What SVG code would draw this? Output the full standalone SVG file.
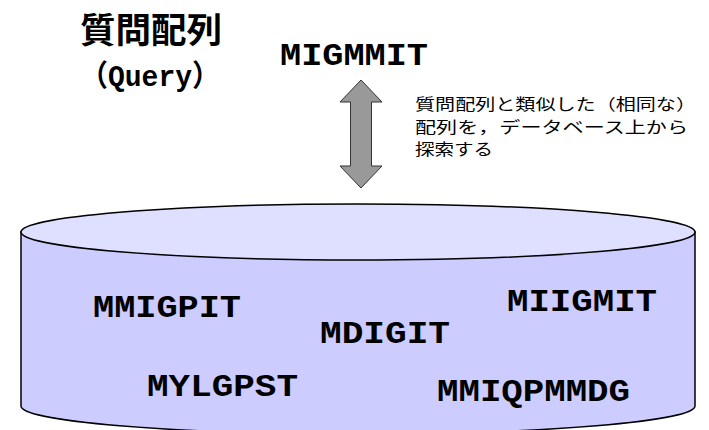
<svg xmlns="http://www.w3.org/2000/svg" width="709" height="430" viewBox="0 0 709 430">
<style>
.seq{font-family:"Liberation Mono","DejaVu Sans Mono",monospace;font-weight:bold;font-size:31px;fill:#000}
.jp{font-family:"Noto Sans CJK JP","Noto Sans",sans-serif;fill:#000}
.note{font-family:"Noto Sans CJK JP","Noto Sans",sans-serif;font-size:15.5px;fill:#000}
.db{stroke:#000;stroke-width:1.5}
</style>
<rect width="709" height="430" fill="#fff"/>
<g id="database">
<path class="db" d="M21,232 L21,406 A337,28 0 0 0 695,406 L695,232 Z" fill="#ccccff"/>
<ellipse class="db" cx="358" cy="232" rx="337" ry="28" fill="#dfdfff"/>
<text class="seq" x="93" y="317" textLength="148" lengthAdjust="spacingAndGlyphs">MMIGPIT</text>
<text class="seq" x="320" y="343" textLength="130" lengthAdjust="spacingAndGlyphs">MDIGIT</text>
<text class="seq" x="507" y="311" textLength="150" lengthAdjust="spacingAndGlyphs">MIIGMIT</text>
<text class="seq" x="147" y="396" textLength="151" lengthAdjust="spacingAndGlyphs">MYLGPST</text>
<text class="seq" x="437" y="401" textLength="193" lengthAdjust="spacingAndGlyphs">MMIQPMMDG</text>
</g>
<g id="query">
<text class="jp" x="80" y="43" font-size="35" font-weight="bold" textLength="142" lengthAdjust="spacingAndGlyphs">質問配列</text>
<text x="80" y="86" font-size="30" font-weight="bold" font-family="Liberation Mono, Noto Sans CJK JP, monospace" textLength="140" lengthAdjust="spacingAndGlyphs">（Query）</text>
<text class="seq" x="280" y="65" textLength="148" lengthAdjust="spacingAndGlyphs">MIGMMIT</text>
</g>
<g id="connectors">
<polygon points="361,80 382,102 371.5,102 371.5,166 382,166 361,188 340,166 350.5,166 350.5,102 340,102" fill="#999999" stroke="#333" stroke-width="1"/>
</g>
<g id="note">
<text class="note" x="415" y="110" textLength="281" lengthAdjust="spacingAndGlyphs">質問配列と類似した（相同な）</text>
<text class="note" x="415" y="132.5" textLength="273" lengthAdjust="spacingAndGlyphs">配列を，データベース上から</text>
<text class="note" x="415" y="155" textLength="78" lengthAdjust="spacingAndGlyphs">探索する</text>
</g>
</svg>
